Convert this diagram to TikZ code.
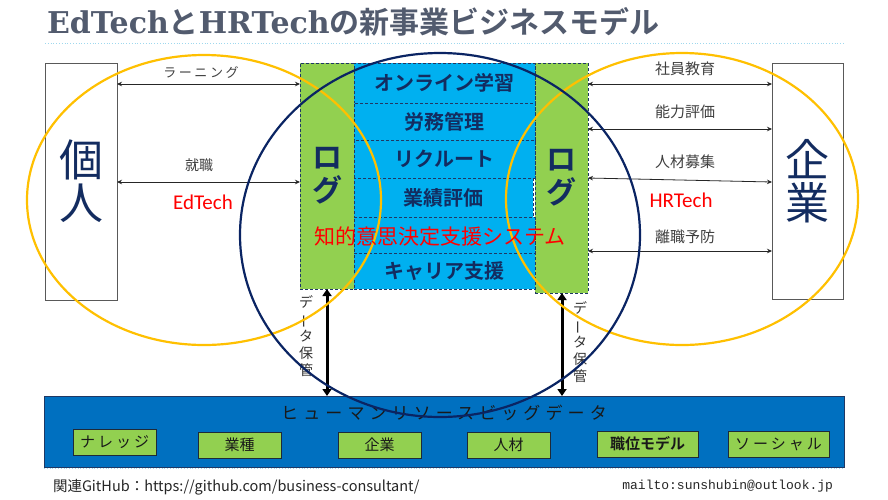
\documentclass[tikz,border=0pt]{standalone}
\usepackage{fontspec}
\usepackage{graphicx}
\usetikzlibrary{arrows.meta}
\setmainfont{Noto Sans CJK JP}[BoldFont={Noto Sans CJK JP Bold}]
\newfontfamily\jp{Noto Sans CJK JP}[BoldFont={Noto Sans CJK JP Bold}]
\newfontfamily\jpwide{Noto Sans CJK JP}[LetterSpace=30]
\newfontfamily\jpspread{Noto Sans CJK JP}[LetterSpace=20]
\newfontfamily\slabfont{DejaVu Serif}
\newfontfamily\techfont{Carlito}
\newfontfamily\monofont{Liberation Mono}

\definecolor{navyline}{HTML}{1F3864}
\definecolor{navytext}{HTML}{132C60}
\definecolor{navyring}{HTML}{0A2463}
\definecolor{leaf}{HTML}{92D050}
\definecolor{sky}{HTML}{00B0F0}
\definecolor{bandblue}{HTML}{0070C0}
\definecolor{gold}{HTML}{FFC000}
\definecolor{titlegray}{HTML}{525B6E}
\definecolor{labelgray}{HTML}{404040}
\definecolor{boxgray}{HTML}{595959}
\definecolor{dotblue}{HTML}{9ED8EE}
\definecolor{tagedge}{HTML}{1E2A38}

\begin{document}
\begin{tikzpicture}[x=1pt,y=-1pt,
  every node/.style={inner sep=0pt, outer sep=0pt},
  sidebox/.style={draw=boxgray, line width=1pt, anchor=north west, align=center,
    text=navytext, font=\jp\fontsize{44}{43}\selectfont},
  logcol/.style={draw=navyline, dash pattern=on 3pt off 2pt, fill=leaf, line width=0.9pt,
    anchor=north west, align=center, text=navytext, font=\jp\bfseries\fontsize{30}{33}\selectfont},
  module/.style={draw=navyline, dash pattern=on 3pt off 2pt, fill=sky, line width=0.9pt,
    anchor=north west, minimum width=181pt, text=navytext, font=\jp\bfseries\fontsize{20}{22}\selectfont},
  flowlabel/.style={text=labelgray, font=\jp\fontsize{14}{16}\selectfont},
  flow/.style={draw=black!85, line width=0.8pt, {Stealth[length=5pt,width=4.5pt]}-{Stealth[length=5pt,width=4.5pt]}},
  store/.style={draw=black, line width=3pt, {Triangle[length=7pt,width=9pt]}-{Triangle[length=7pt,width=9pt]}},
  storelabel/.style={align=center, text=black!80, font=\jp\fontsize{14}{17}\selectfont},
  techlabel/.style={text=red, font=\techfont\fontsize{21}{24}\selectfont},
  tag/.style={draw=tagedge, fill=leaf, line width=1pt, anchor=north west, text=black!90,
    font=\jp\fontsize{15}{17}\selectfont},
  ring/.style={line width=2.2pt},
  rule/.style={draw=dotblue, line width=0.8pt, dotted},
]
\useasboundingbox (0,0) rectangle (888,499);
\fill[white] (0,0) rectangle (888,499);

% heading and its rule
\node[anchor=west, text=titlegray] (title) at (47,22)
  {\fontsize{30}{32}\selectfont\slabfont\bfseries EdTech\jp\bfseries と\slabfont\bfseries HRTech\jp\bfseries の新事業ビジネスモデル};
\draw[rule] (45,43) -- (845,43);

% the two parties
\node[sidebox, minimum width=72pt, minimum height=237pt] (person) at (45,63) {個\\人};
\node[sidebox, minimum width=71pt, minimum height=236pt] (corp) at (772,63) {企\\業};

% log columns
\node[logcol, minimum width=54pt, minimum height=226pt] (logL) at (300,63) {ロ\\グ};
\node[logcol, minimum width=53pt, minimum height=230pt] (logR) at (535,63) {ロ\\グ};

% system modules
\node[module, minimum height=40pt] (m1) at (354,63)  {オンライン学習};
\node[module, minimum height=37pt] (m2) at (354,103) {労務管理};
\node[module, minimum height=38pt] (m3) at (354,140) {リクルート};
\node[module, minimum height=39pt, minimum width=179pt] (m4) at (354,178) {業績評価};
\node[module, minimum height=36pt] (m5) at (354,217) {};
\node[module, minimum height=36pt] (m6) at (354,253) {キャリア支援};

% data band
\node[draw=navyline, fill=bandblue, line width=1pt, anchor=north west,
      minimum width=800pt, minimum height=71pt] (band) at (44,396) {};
\draw[rule] (44,468) -- (844,468);
\coordinate (bandtitle) at (444,413);
\node[text=black!90, font=\jpwide\fontsize{17}{19}\selectfont] (bandlabel) at (bandtitle) {ヒューマンリソースビッグデータ};
\node[tag, minimum width=83pt, minimum height=26pt] (t1) at (73,429)  {\jpspread ナレッジ};
\node[tag, minimum width=83pt, minimum height=26pt] (t2) at (198,432) {業種};
\node[tag, minimum width=83pt, minimum height=26pt] (t3) at (338,432) {企業};
\node[tag, minimum width=83pt, minimum height=26pt] (t4) at (467,432) {人材};
\node[tag, minimum width=101pt, minimum height=26pt, font=\jp\bfseries\fontsize{15}{17}\selectfont] (t5) at (597,431) {職位モデル};
\node[tag, minimum width=101pt, minimum height=26pt] (t6) at (728,431) {\jpspread ソーシャル};

% flows on the individual side
\coordinate (yl1) at (0,84);
\coordinate (yl2) at (0,182);
\draw[flow] (person.east |- yl1) -- (logL.west |- yl1);
\draw[flow] (person.east |- yl2) -- (logL.west |- yl2);
\node[flowlabel, font=\jpspread\fontsize{13}{15}\selectfont] (fl1) at (201,72) {ラーニング};
\node[flowlabel] (fl2) at (199,165) {就職};
\node[techlabel] (edtech) at (203,202) {EdTech};

% flows on the company side
\coordinate (yr1) at (0,84);
\coordinate (yr2) at (0,129);
\coordinate (yr3a) at (0,178);
\coordinate (yr3b) at (0,182);
\coordinate (yr4) at (0,251);
\draw[flow] (logR.east |- yr1) -- (corp.west |- yr1);
\draw[flow] (logR.east |- yr2) -- (corp.west |- yr2);
\draw[flow] (logR.east |- yr3a) -- (corp.west |- yr3b);
\draw[flow] (logR.east |- yr4) -- (corp.west |- yr4);
\node[flowlabel, font=\jp\fontsize{15}{17}\selectfont] (fr1) at (685,69)  {社員教育};
\node[flowlabel, font=\jp\fontsize{15}{17}\selectfont] (fr2) at (685,112) {能力評価};
\node[flowlabel, font=\jp\fontsize{15}{17}\selectfont] (fr3) at (685,162) {人材募集};
\node[flowlabel, font=\jp\fontsize{15}{17}\selectfont] (fr4) at (685,237) {離職予防};
\node[techlabel] (hrtech) at (681,200) {HRTech};

% storage links between logs and the data band
\coordinate (dl) at (327,0);
\coordinate (dr) at (562,0);
\draw[store] (logL.south -| dl) -- (band.north -| dl);
\draw[store] (logR.south -| dr) -- (band.north -| dr);
\node[storelabel] (sl) at (306,336) {デ\\\rotatebox[origin=c]{90}{ー}\\タ\\保\\管};
\node[storelabel] (sr) at (580,342) {デ\\\rotatebox[origin=c]{90}{ー}\\タ\\保\\管};

% overlapping domains
\draw[ring, draw=gold] (204,200) ellipse [x radius=177, y radius=145];
\draw[ring, draw=gold] (682,199) ellipse [x radius=176, y radius=146];
\draw[ring, draw=navyring] (440,235) ellipse [x radius=200, y radius=182];

% decision support label across the modules
\node[text=red, font=\jp\fontsize{21}{23}\selectfont] (dss) at (440,237) {知的意思決定支援システム};

% footer
\node[anchor=west, text=black!85, font=\jp\fontsize{14.5}{16}\selectfont] (gh) at (53,487)
  {関連GitHub：https://github.com/business-consultant/};
\node[anchor=east, text=black!85, font=\monofont\fontsize{13}{15}\selectfont] (mail) at (833,486)
  {mailto:sunshubin@outlook.jp};
\end{tikzpicture}
\end{document}
